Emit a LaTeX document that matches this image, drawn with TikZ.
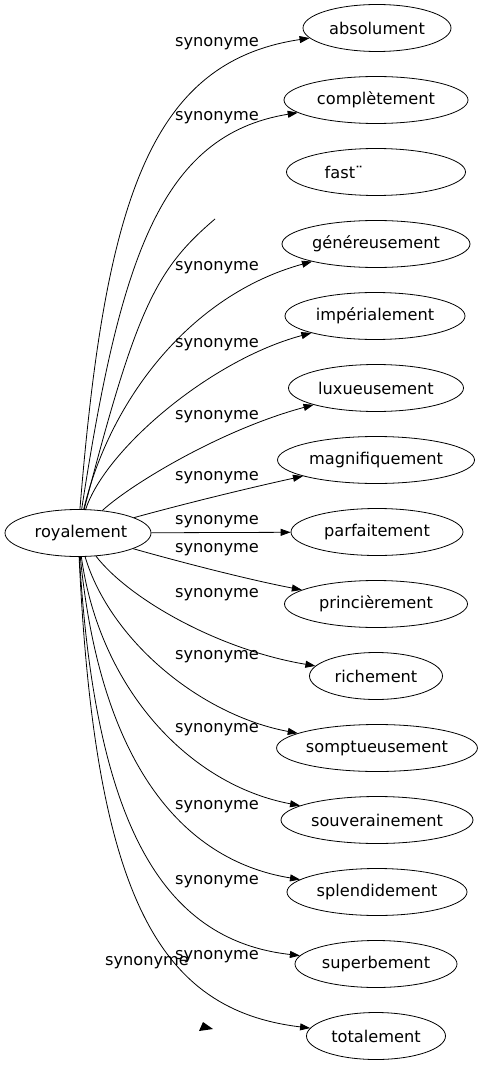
\documentclass[tikz,border=0pt]{standalone}
\usepackage{fontspec}
\setmainfont{DejaVu Sans}
\usetikzlibrary{arrows.meta,shapes.geometric}

\begin{document}
\begin{tikzpicture}[x=1pt,y=-1pt,
  word/.style={draw,ellipse,line width=0.8pt,minimum height=47pt,inner sep=0pt,font=\fontsize{16.2}{19}\selectfont},
  lbl/.style={inner sep=0pt,font=\fontsize{16.2}{19}\selectfont},
  syn/.style={line width=0.8pt,-{Triangle[length=10pt,width=7pt]}},
  cut/.style={line width=0.8pt}]
\useasboundingbox (0,0) rectangle (483,1067);
\node[word,minimum width=146pt] (root) at (78,533) {\kern6pt royalement};
\node[word,minimum width=148pt] (absolument) at (377,28) {absolument};
\node[word,minimum width=184pt] (completement) at (376,100) {complètement};
\node[word,minimum width=179pt] (fast) at (376,172) {fast¨\kern64pt};
\node[word,minimum width=188pt] (genereusement) at (376,244) {généreusement};
\node[word,minimum width=180pt] (imperialement) at (375,316) {impérialement};
\node[word,minimum width=175pt] (luxueusement) at (376,388) {luxueusement};
\node[word,minimum width=197pt] (magnifiquement) at (376,460) {magnifiquement};
\node[word,minimum width=172pt] (parfaitement) at (377,532) {parfaitement};
\node[word,minimum width=183pt] (princierement) at (376,604) {princièrement};
\node[word,minimum width=133pt] (richement) at (376,676) {richement};
\node[word,minimum width=196pt] (somptueusement) at (377,748) {somptueusement};
\node[word,minimum width=192pt] (souverainement) at (377,820) {souverainement};
\node[word,minimum width=180pt] (splendidement) at (377,892) {splendidement};
\node[word,minimum width=162pt] (superbement) at (376,964) {superbement};
\node[word,minimum width=139pt] (totalement) at (376,1036) {totalement};
\coordinate (fastend) at (215,219);
\draw[syn] (root) .. controls (105,200) and (150,62) .. (absolument);
\draw[syn] (root) .. controls (120,260) and (160,135) .. (completement);
\draw[cut] (root) .. controls (136,310) and (155,270) .. (fastend);
\draw[syn] (root) .. controls (110,400) and (190,295) .. (genereusement);
\draw[syn] (root) .. controls (105,450) and (210,360) .. (imperialement);
\draw[syn] (root) .. controls (130,485) and (220,430) .. (luxueusement);
\draw[syn] (root) .. controls (180,505) and (240,490) .. (magnifiquement);
\draw[syn] (root) -- (parfaitement);
\draw[syn] (root) .. controls (180,562) and (250,580) .. (princierement);
\draw[syn] (root) .. controls (130,600) and (220,650) .. (richement);
\draw[syn] (root) .. controls (110,640) and (200,715) .. (somptueusement);
\draw[syn] (root) .. controls (100,690) and (190,785) .. (souverainement);
\draw[syn] (root) .. controls (100,760) and (180,860) .. (splendidement);
\draw[syn] (root) .. controls (95,820) and (160,940) .. (superbement);
\draw[syn] (root) .. controls (95,900) and (160,1010) .. (totalement);
\fill (199,1031) -- (203,1022) -- (213,1029) -- cycle;
\node[lbl] (l1) at (217,44) {synonyme};
\node[lbl] (l2) at (217,118) {synonyme};
\node[lbl] (l4) at (217,268) {synonyme};
\node[lbl] (l5) at (217,345) {synonyme};
\node[lbl] (l6) at (217,417) {synonyme};
\node[lbl] (l7) at (217,478) {synonyme};
\node[lbl] (l8) at (217,522) {synonyme};
\node[lbl] (l9) at (217,550) {synonyme};
\node[lbl] (l10) at (217,595) {synonyme};
\node[lbl] (l11) at (217,657) {synonyme};
\node[lbl] (l12) at (217,730) {synonyme};
\node[lbl] (l13) at (217,807) {synonyme};
\node[lbl] (l14) at (217,882) {synonyme};
\node[lbl] (l15) at (217,957) {synonyme};
\node[lbl] (l16) at (147,963) {synonyme};
\end{tikzpicture}
\end{document}
